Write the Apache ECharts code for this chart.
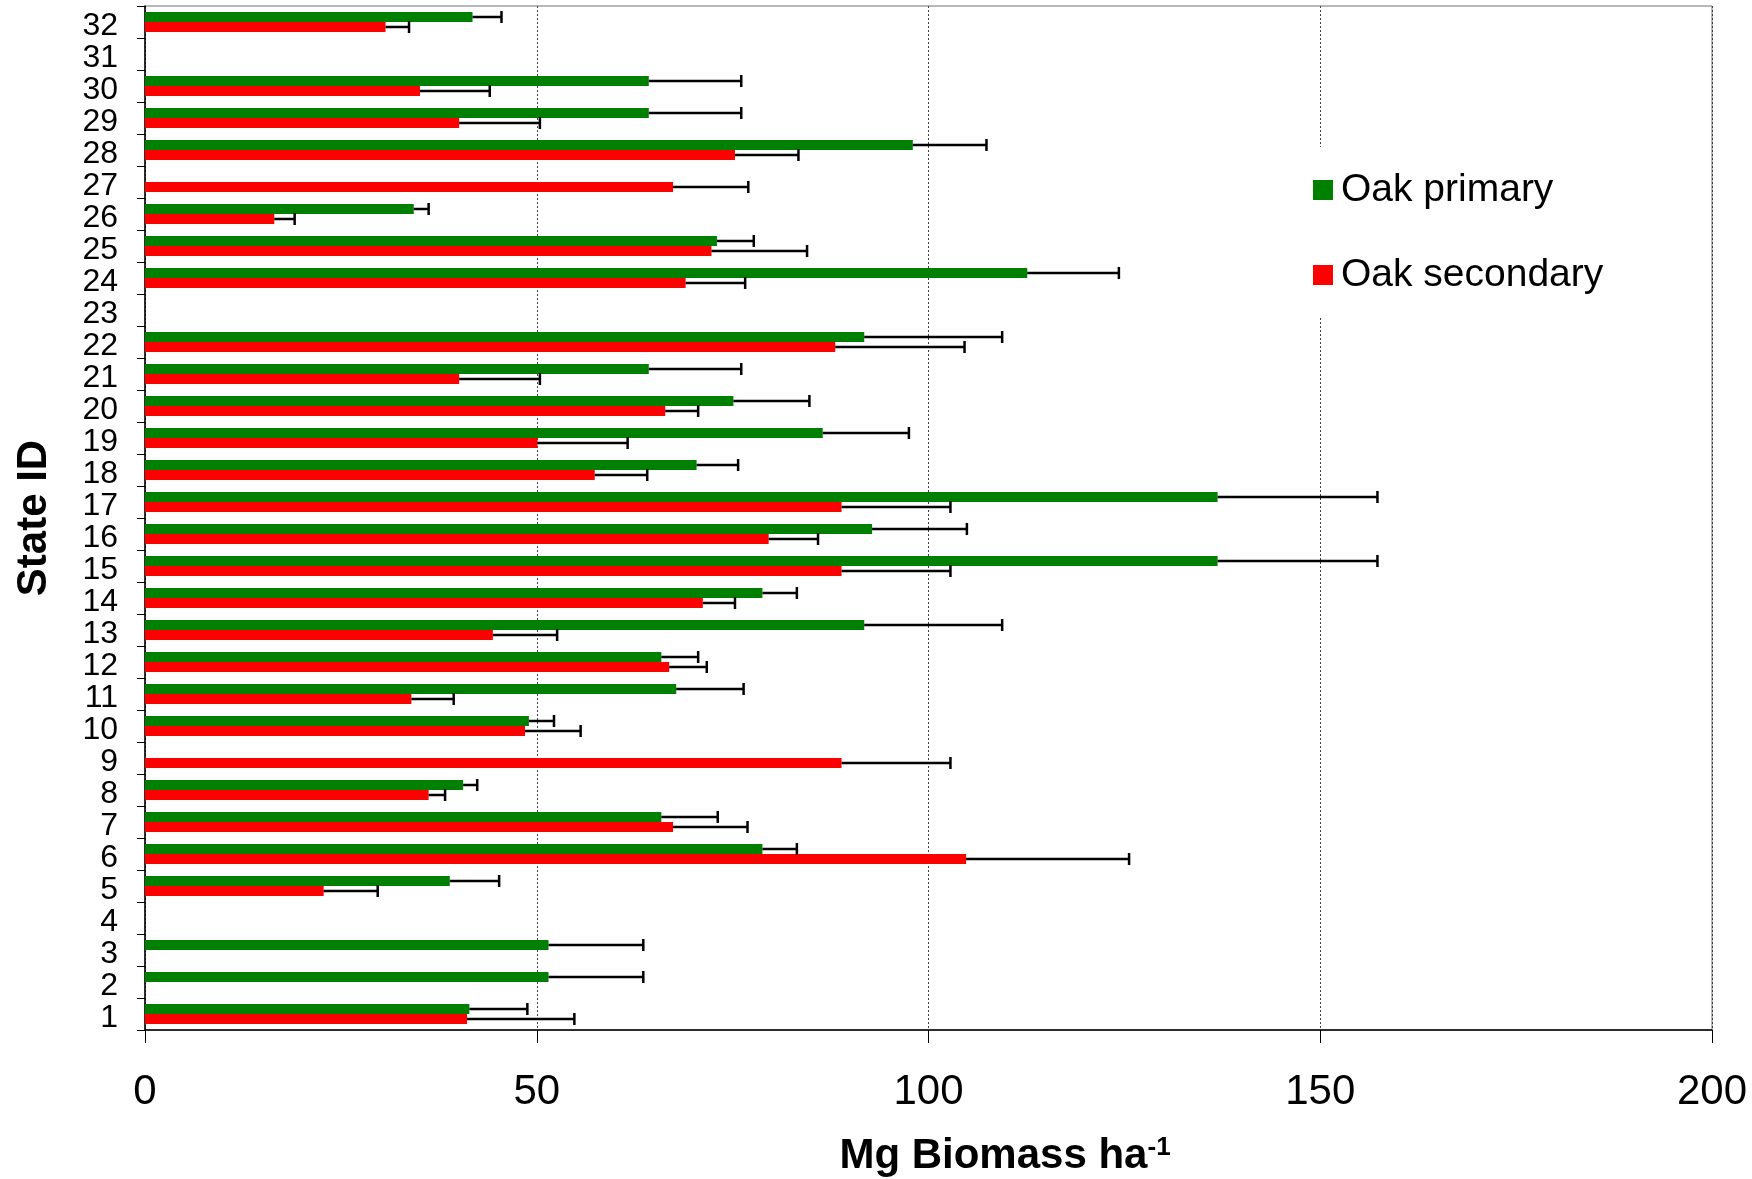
<!DOCTYPE html>
<html>
<head>
<meta charset="utf-8">
<script src="https://cdn.jsdelivr.net/npm/echarts@6/dist/echarts.min.js"></script>
<style>
html,body{margin:0;padding:0;background:#fff;}
#chart{width:1752px;height:1179px;}
</style>
</head>
<body>
<div id="chart"></div>
<script>
const categories = ['1','2','3','4','5','6','7','8','9','10','11','12','13','14','15','16','17','18','19','20','21','22','23','24','25','26','27','28','29','30','31','32'];
const xTicks = [0, 50, 100, 150, 200];
const seriesNames = ['Oak primary', 'Oak secondary'];
const primary = [41.4, 51.5, 51.5, null, 38.9, 78.8, 65.9, 40.6, null, 49.0, 67.8, 65.9, 91.8, 78.8, 136.9, 92.8, 136.9, 70.4, 86.5, 75.1, 64.3, 91.8, null, 112.6, 73.0, 34.3, null, 98.0, 64.3, 64.3, null, 41.8];
const primaryErr = [7.4, 12.1, 12.1, null, 6.3, 4.4, 7.2, 1.8, null, 3.2, 8.6, 4.7, 17.6, 4.4, 20.4, 12.1, 20.4, 5.3, 11.0, 9.7, 11.8, 17.6, null, 11.7, 4.7, 1.9, null, 9.4, 11.8, 11.8, null, 3.7];
const secondary = [41.1, null, null, null, 22.8, 104.8, 67.4, 36.2, 88.9, 48.5, 34.0, 66.9, 44.4, 71.2, 88.9, 79.6, 88.9, 57.4, 50.1, 66.4, 40.1, 88.1, null, 69.0, 72.3, 16.5, 67.4, 75.3, 40.1, 35.1, null, 30.7];
const secondaryErr = [13.7, null, null, null, 6.9, 20.8, 9.5, 2.1, 13.9, 7.1, 5.4, 4.8, 8.2, 4.1, 13.9, 6.3, 13.9, 6.7, 11.5, 4.2, 10.3, 16.5, null, 7.6, 12.2, 2.6, 9.6, 8.1, 10.3, 8.9, null, 3.0];

const FONT = 'Liberation Sans, Arial, sans-serif';
const BAR_W = 10;

function errData(vals, errs) {
  const out = [];
  vals.forEach((v, i) => {
    if (v != null && errs[i] != null) out.push([v, i, v + errs[i]]);
  });
  return out;
}

function errSeries(vals, errs, shift) {
  return {
    type: 'custom',
    z: 5,
    silent: true,
    data: errData(vals, errs),
    renderItem: function (params, api) {
      const cat = api.value(1);
      const s = api.coord([api.value(0), cat]);
      const e = api.coord([api.value(2), cat]);
      const y = s[1] + shift;
      const cap = 6;
      return {
        type: 'group',
        children: [
          { type: 'line', shape: { x1: s[0], y1: y, x2: e[0], y2: y }, style: { stroke: '#000', lineWidth: 2.5 } },
          { type: 'line', shape: { x1: e[0], y1: y - cap, x2: e[0], y2: y + cap }, style: { stroke: '#000', lineWidth: 2.5 } }
        ]
      };
    }
  };
}

const chart = echarts.init(document.getElementById('chart'));
chart.setOption({
  animation: false,
  backgroundColor: '#fff',
  textStyle: { fontFamily: FONT },
  grid: { left: 145, top: 6, width: 1567, height: 1024, outerBoundsMode: 'none', containLabel: false, show: true, borderColor: '#707070', borderWidth: 1, backgroundColor: 'transparent' },
  legend: {
    orient: 'vertical',
    left: 1298,
    top: 147,
    padding: [23, 12, 23, 15],
    itemGap: 45,
    itemWidth: 20,
    itemHeight: 20,
    backgroundColor: '#fff',
    icon: 'rect',
    data: seriesNames,
    textStyle: { fontSize: 39, lineHeight: 40, color: '#000', fontFamily: FONT, padding: [0, 0, 0, 3] }
  },
  xAxis: {
    type: 'value',
    min: xTicks[0],
    max: xTicks[xTicks.length - 1],
    interval: 50,
    name: '{t|Mg Biomass ha}{s|-1}',
    nameLocation: 'middle',
    nameGap: 105,
    nameTextStyle: {
      padding: [0, 0, 0, 153],
      rich: {
        t: { fontSize: 42, fontWeight: 'bold', color: '#000', fontFamily: FONT },
        s: { fontSize: 26, fontWeight: 'bold', color: '#000', fontFamily: FONT, verticalAlign: 'top', lineHeight: 26 }
      }
    },
    axisLine: { show: true, lineStyle: { color: '#000', width: 1.5 } },
    axisTick: { show: true, length: 13, lineStyle: { color: '#000', width: 1 } },
    axisLabel: { fontSize: 42, color: '#000', margin: 41, fontFamily: FONT },
    splitLine: { show: true, lineStyle: { color: '#404040', width: 1, type: [2, 2] } }
  },
  yAxis: {
    type: 'category',
    data: categories,
    name: 'State ID',
    nameLocation: 'middle',
    nameGap: 90,
    nameTextStyle: { fontSize: 42, fontWeight: 'bold', color: '#000', fontFamily: FONT },
    axisLine: { show: true, lineStyle: { color: '#000', width: 1.5 } },
    axisTick: { show: true, length: 8, alignWithLabel: false, lineStyle: { color: '#000', width: 1 } },
    axisLabel: { fontSize: 32, color: '#000', margin: 27, fontFamily: FONT, interval: 0, verticalAlign: 'top', lineHeight: 8 },
    splitLine: { show: false }
  },
  series: [
    { name: seriesNames[0], type: 'bar', data: primary, barWidth: BAR_W, barGap: '0%', itemStyle: { color: '#008000' } },
    { name: seriesNames[1], type: 'bar', data: secondary, barWidth: BAR_W, barGap: '0%', itemStyle: { color: '#ff0000' } },
    errSeries(primary, primaryErr, -BAR_W / 2),
    errSeries(secondary, secondaryErr, BAR_W / 2)
  ]
});
</script>
</body>
</html>
